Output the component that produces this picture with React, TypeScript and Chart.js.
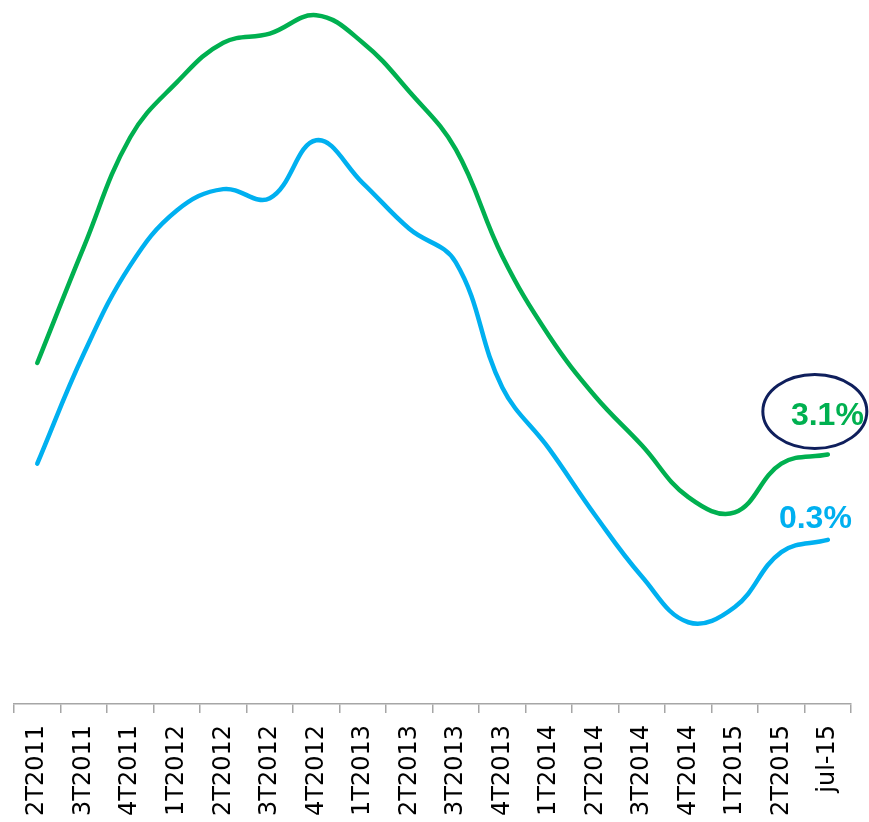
import React, { useEffect, useRef } from "react";
import { Chart, registerables } from "chart.js";

Chart.register(...registerables);

const categories = [
  "2T2011", "3T2011", "4T2011", "1T2012", "2T2012", "3T2012", "4T2012", "1T2013", "2T2013",
  "3T2013", "4T2013", "1T2014", "2T2014", "3T2014", "4T2014", "1T2015", "2T2015", "jul-15",
];

const greenSeries = [6.1, 9.9, 13.5, 15.3, 16.6, 16.9, 17.5, 16.6, 15.0, 13.1, 9.6, 7.0, 5.0, 3.4, 1.7, 1.2, 2.8, 3.1];
const blueSeries = [2.8, 6.4, 9.3, 11.1, 11.8, 11.5, 13.4, 12.0, 10.5, 9.4, 5.3, 3.3, 1.1, -0.9, -2.4, -1.9, -0.1, 0.3];

const GREEN = "#00b050";
const BLUE = "#00b0f0";
const NAVY = "#0f1f5c";

const endLabels = {
  id: "endLabels",
  afterDatasetsDraw(chart: any) {
    const ctx = chart.ctx;
    const gMeta = chart.getDatasetMeta(0);
    const bMeta = chart.getDatasetMeta(1);
    const gPt = gMeta.data[gMeta.data.length - 1];
    const bPt = bMeta.data[bMeta.data.length - 1];
    const gVal = greenSeries[greenSeries.length - 1];
    const bVal = blueSeries[blueSeries.length - 1];
    ctx.save();
    ctx.beginPath();
    ctx.ellipse(gPt.x - 13, gPt.y - 43, 52, 37, 0, 0, Math.PI * 2);
    ctx.strokeStyle = NAVY;
    ctx.lineWidth = 3;
    ctx.stroke();
    ctx.font = "bold 32px 'Liberation Sans', Arial, sans-serif";
    ctx.textBaseline = "middle";
    ctx.textAlign = "right";
    ctx.fillStyle = GREEN;
    ctx.fillText(gVal.toFixed(1) + "%", gPt.x + 36, gPt.y - 38);
    ctx.fillStyle = BLUE;
    ctx.fillText(bVal.toFixed(1) + "%", bPt.x + 24, bPt.y - 21);
    ctx.restore();
  },
};

export default function App() {
  const ref = useRef<HTMLCanvasElement>(null);
  useEffect(() => {
    if (!ref.current) return;
    const chart = new Chart(ref.current, {
      type: "line",
      data: {
        labels: categories,
        datasets: [
          {
            data: greenSeries,
            borderColor: GREEN,
            borderWidth: 4.5,
            pointRadius: 0,
            tension: 0.4,
            borderCapStyle: "round",
            fill: false,
          },
          {
            data: blueSeries,
            borderColor: BLUE,
            borderWidth: 4.5,
            pointRadius: 0,
            tension: 0.4,
            borderCapStyle: "round",
            fill: false,
          },
        ],
      },
      options: {
        animation: false,
        responsive: true,
        maintainAspectRatio: false,
        layout: { padding: { left: 14, right: 13, top: 0, bottom: 0 } },
        plugins: { legend: { display: false }, tooltip: { enabled: false } },
        scales: {
          x: {
            type: "category",
            offset: true,
            border: { display: true, color: "#a6a6a6", width: 1.5 },
            grid: {
              offset: true,
              drawOnChartArea: false,
              drawTicks: true,
              tickLength: 9,
              color: "#a6a6a6",
              lineWidth: 1.5,
            },
            ticks: {
              minRotation: 90,
              maxRotation: 90,
              autoSkip: false,
              padding: 12,
              color: "#000000",
              font: { family: "'DejaVu Sans', sans-serif", size: 24 },
            },
            afterFit: (scale: any) => {
              scale.height = 118;
            },
          },
          y: {
            display: false,
            min: -5.08,
            max: 18.0,
          },
        },
      },
      plugins: [endLabels],
    });
    return () => chart.destroy();
  }, []);
  return (
    <div style={{ position: "absolute", left: 0, top: 0, width: 869, height: 822, background: "#fff" }}>
      <canvas ref={ref} />
    </div>
  );
}
